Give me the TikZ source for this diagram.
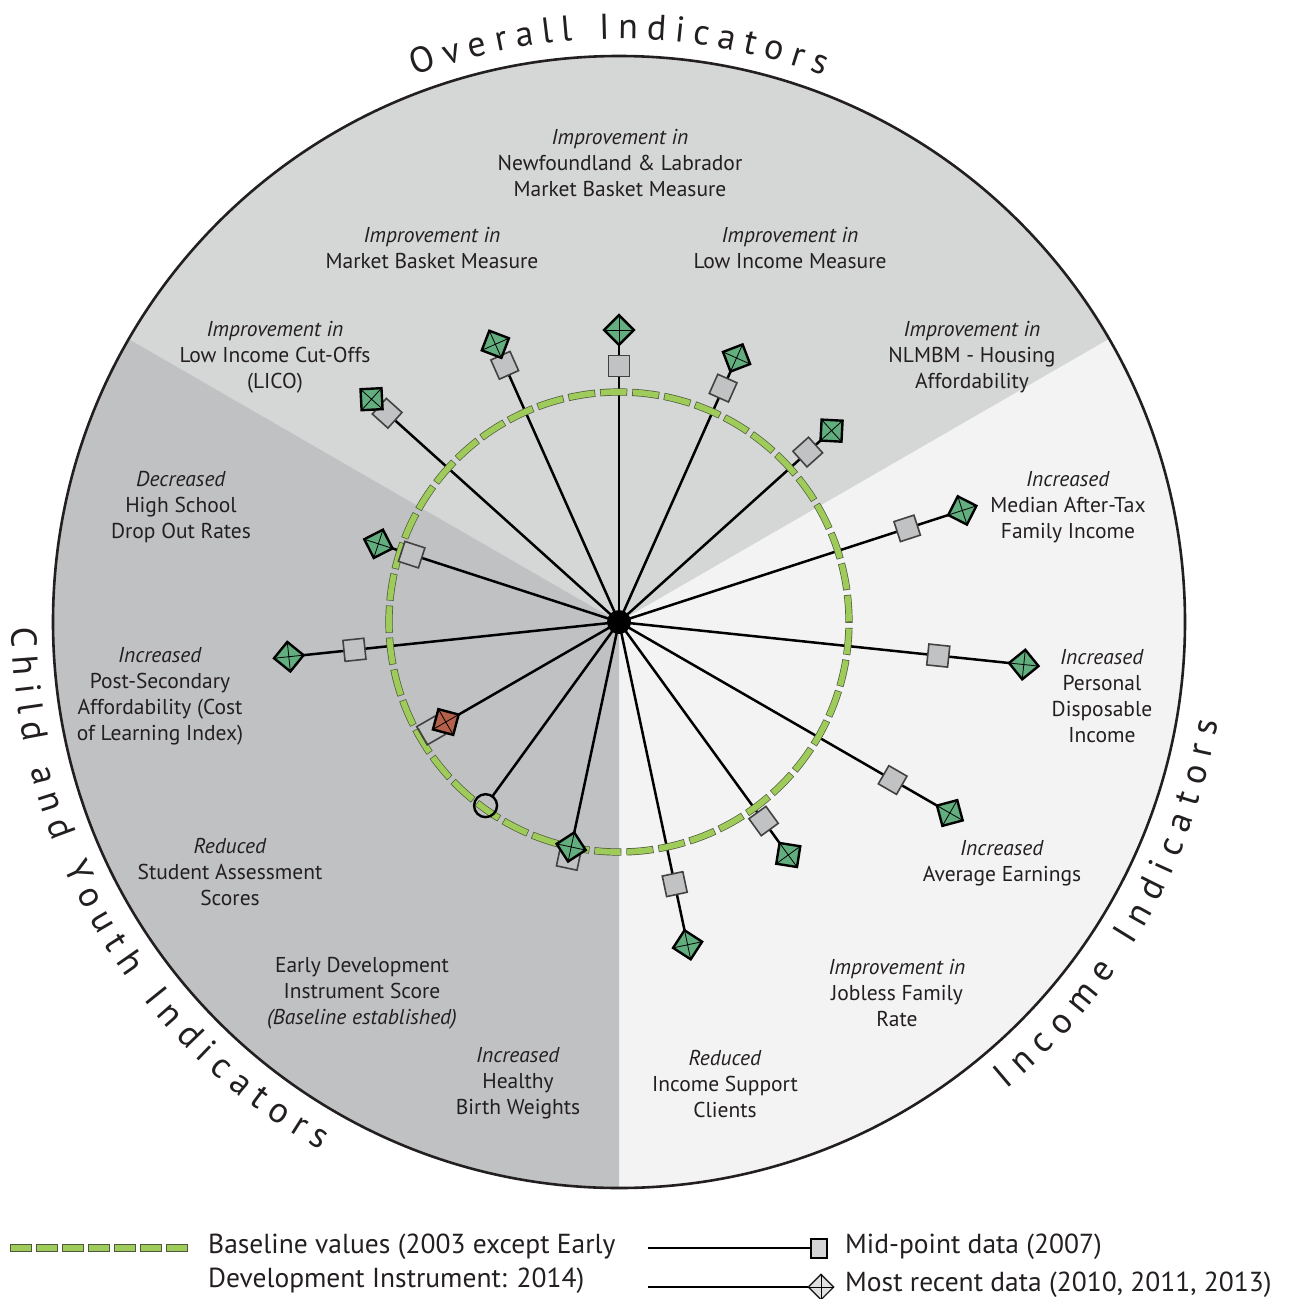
\documentclass[tikz,border=0pt]{standalone}
\usepackage{fontspec}
\setmainfont{PT Sans}
\usetikzlibrary{decorations.text}
\definecolor{txt}{HTML}{231F20}
\definecolor{secover}{HTML}{D5D6D6}
\definecolor{secchild}{HTML}{C0C1C3}
\definecolor{secinc}{HTML}{F3F3F3}
\definecolor{sqgray}{HTML}{C1C2C4}
\definecolor{mkgreen}{HTML}{62AE7F}
\definecolor{mkred}{HTML}{B4604A}
\definecolor{basegreen}{HTML}{9FCB5A}
\definecolor{baseedge}{HTML}{4D5A3A}
\pgfdeclarelayer{bg}
\pgfdeclarelayer{lines}
\pgfsetlayers{bg,lines,main}
\newcommand\curvefont{\fontsize{36}{40}\selectfont}
\newcommand\lblfont{\fontsize{21.5}{26}\selectfont}
\newcommand\legfont{\fontsize{27.5}{34}\selectfont}
\tikzset{
  midsq/.style={shape=rectangle, draw=txt!85, line width=1.6pt, fill=sqgray, minimum size=21pt, inner sep=0pt, outer sep=0pt},
  recent/.style={shape=rectangle, draw=black, line width=2.4pt, fill=mkgreen, minimum size=21pt, inner sep=0pt, outer sep=0pt},
  xline/.style={draw=black, line width=0.8pt},
  spoke/.style={draw=black, line width=2.5pt},
  lbl/.style={font=\lblfont, align=center, text=txt, inner sep=0pt},
  legtext/.style={font=\legfont, align=left, text=txt, inner sep=0pt, anchor=west},
  baseout/.style={draw=baseedge, line width=7.2pt, dash pattern=on 27.1pt off 5pt},
  basein/.style={draw=basegreen, line width=5.8pt, dash pattern=on 25.7pt off 6.4pt, dash phase=31.4pt},
  legout/.style={draw=baseedge, line width=8pt, dash pattern=on 22pt off 4pt},
  legin/.style={draw=basegreen, line width=6.4pt, dash pattern=on 20.4pt off 5.6pt, dash phase=25.2pt},
}
% spoke markers: name, angle, mid radius, recent radius
\newcommand\spk[4]{%
  \node[midsq, rotate=#2] (#1s) at ([shift={(#2:#3)}]o) {};
  \node[recent, rotate={#2-45}] (#1r) at ([shift={(#2:#4)}]o) {};
  \draw[xline] (#1r.north west) -- (#1r.south east) (#1r.north east) -- (#1r.south west);
}
\begin{document}
\begin{tikzpicture}[x=1pt, y=1pt]
\useasboundingbox (0,0) rectangle (1292,-1299);
\coordinate (o) at (619,-622);

% sectors
\begin{pgfonlayer}{bg}
  \fill[secover] (o) -- ([shift={(30:566)}]o) arc[start angle=30, end angle=150, radius=566] -- cycle;
  \fill[secinc] (o) -- ([shift={(-90:566)}]o) arc[start angle=-90, end angle=30, radius=566] -- cycle;
  \fill[secchild] (o) -- ([shift={(150:566)}]o) arc[start angle=150, end angle=270, radius=566] -- cycle;
  \draw[txt, line width=2.6pt] (o) circle[radius=566];
\end{pgfonlayer}

% curved titles
\path[decorate, decoration={text along path, text={|\curvefont|Overall Indicators}, text align={fit to path}, text color=txt}]
  ([shift={(110.5:583)}]o) arc[start angle=110.5, end angle=69.5, radius=583];
\path[decorate, decoration={text along path, text={|\curvefont|Child and Youth Indicators}, text align={fit to path}, text color=txt}]
  ([shift={(180.5:607)}]o) arc[start angle=180.5, end angle=240.5, radius=607];
\path[decorate, decoration={text along path, text={|\curvefont|Income Indicators}, text align={fit to path}, text color=txt}]
  ([shift={(-50.3:607)}]o) arc[start angle=-50.3, end angle=-9.5, radius=607];

% markers
\spk{k0}{90}{256}{292}
\spk{k1}{66}{256}{289}
\spk{k2}{42}{254}{286}
\spk{k3}{18}{303}{361}
\spk{k4}{-6}{321}{407}
\spk{k5}{-30}{316}{382}
\spk{k6}{-54}{246}{288}
\spk{k7}{-78}{268}{330}
\spk{k8}{-102}{241}{230}
\spk{k11}{-174}{266}{332}
\spk{k12}{162}{218}{253}
\spk{k13}{138}{312}{333}
\spk{k14}{114}{281}{304}
\node[circle, draw=black, line width=2.4pt, minimum size=23pt, inner sep=0pt, outer sep=0pt] (k9r) at ([shift={(-126:227)}]o) {};
\node[midsq, fill=none, rotate=-150] (k10s) at ([shift={(-150:217)}]o) {};
\node[recent, fill=mkred, rotate=-195] (k10r) at ([shift={(-150:200)}]o) {};
\draw[xline] (k10r.north west) -- (k10r.south east) (k10r.north east) -- (k10r.south west);
\node[circle, fill=black, minimum size=24pt, inner sep=0pt] (hub) at (o) {};

\begin{pgfonlayer}{lines}
  \foreach \k in {k0,k1,k2,k3,k4,k5,k6,k7,k11,k12,k13,k14,k10}
    \draw[spoke] (hub.center) -- (\k r.center);
  \draw[spoke] (hub.center) -- (k8s.center);
  \draw[spoke] (hub.center) -- (k9r);
  \draw[baseout] (o) circle[radius=230];
  \draw[basein] (o) circle[radius=230];
\end{pgfonlayer}

% labels
\node[lbl] (t1) at (620,-163) {\textit{Improvement in}\\Newfoundland \& Labrador\\Market Basket Measure};
\node[lbl] (t2) at (432,-248) {\textit{Improvement in}\\Market Basket Measure};
\node[lbl] (t3) at (790,-248) {\textit{Improvement in}\\Low Income Measure};
\node[lbl] (t4) at (275,-357) {\textit{Improvement in}\\Low Income Cut-Offs\\(LICO)};
\node[lbl] (t5) at (972,-357) {\textit{Improvement in}\\NLMBM - Housing\\Affordability};
\node[lbl] (t6) at (1068,-507) {\textit{Increased}\\Median After-Tax\\Family Income};
\node[lbl] (t7) at (1102,-696) {\textit{Increased}\\Personal\\Disposable\\Income};
\node[lbl] (t8) at (1002,-863) {\textit{Increased}\\Average Earnings};
\node[lbl] (t9) at (897,-993) {\textit{Improvement in}\\Jobless Family\\Rate};
\node[lbl] (t10) at (725,-1084) {\textit{Reduced}\\Income Support\\Clients};
\node[lbl] (t11) at (181,-507) {\textit{Decreased}\\High School\\Drop Out Rates};
\node[lbl] (t12) at (160,-696) {\textit{Increased}\\Post-Secondary\\Affordability (Cost\\of Learning Index)};
\node[lbl] (t13) at (230,-872) {\textit{Reduced}\\Student Assessment\\Scores};
\node[lbl] (t14) at (362,-993) {Early Development\\Instrument Score\\\textit{(Baseline established)}};
\node[lbl] (t15) at (518,-1083) {\textit{Increased}\\Healthy\\Birth Weights};

% legend
\coordinate (lgA) at (10,-1248);
\coordinate (lgB) at (190,-1248);
\draw[legout] (lgA) -- (lgB);
\draw[legin] (lgA) -- (lgB);
\node[legtext] (lg1) at (208,-1264) {Baseline values (2003 except Early\\Development Instrument: 2014)};
\coordinate (lmA) at (648,-1248);
\node[shape=rectangle, draw=black, line width=2pt, fill=sqgray!70, minimum width=16pt, minimum height=19pt, inner sep=0pt, outer sep=0pt] (lmS) at (819,-1248) {};
\draw[spoke] (lmA) -- (lmS);
\coordinate (lrA) at (648,-1287);
\node[shape=rectangle, draw=txt, line width=1.4pt, fill=sqgray!50, minimum size=18pt, inner sep=0pt, outer sep=0pt, rotate=45] (lrD) at (821,-1287) {};
\draw[xline] (lrD.north west) -- (lrD.south east) (lrD.north east) -- (lrD.south west);
\draw[spoke] (lrA) -- (lrD.north west);
\node[legtext] (lg2) at (845,-1247) {Mid-point data (2007)};
\node[legtext] (lg3) at (845,-1285) {Most recent data (2010, 2011, 2013)};
\end{tikzpicture}
\end{document}
